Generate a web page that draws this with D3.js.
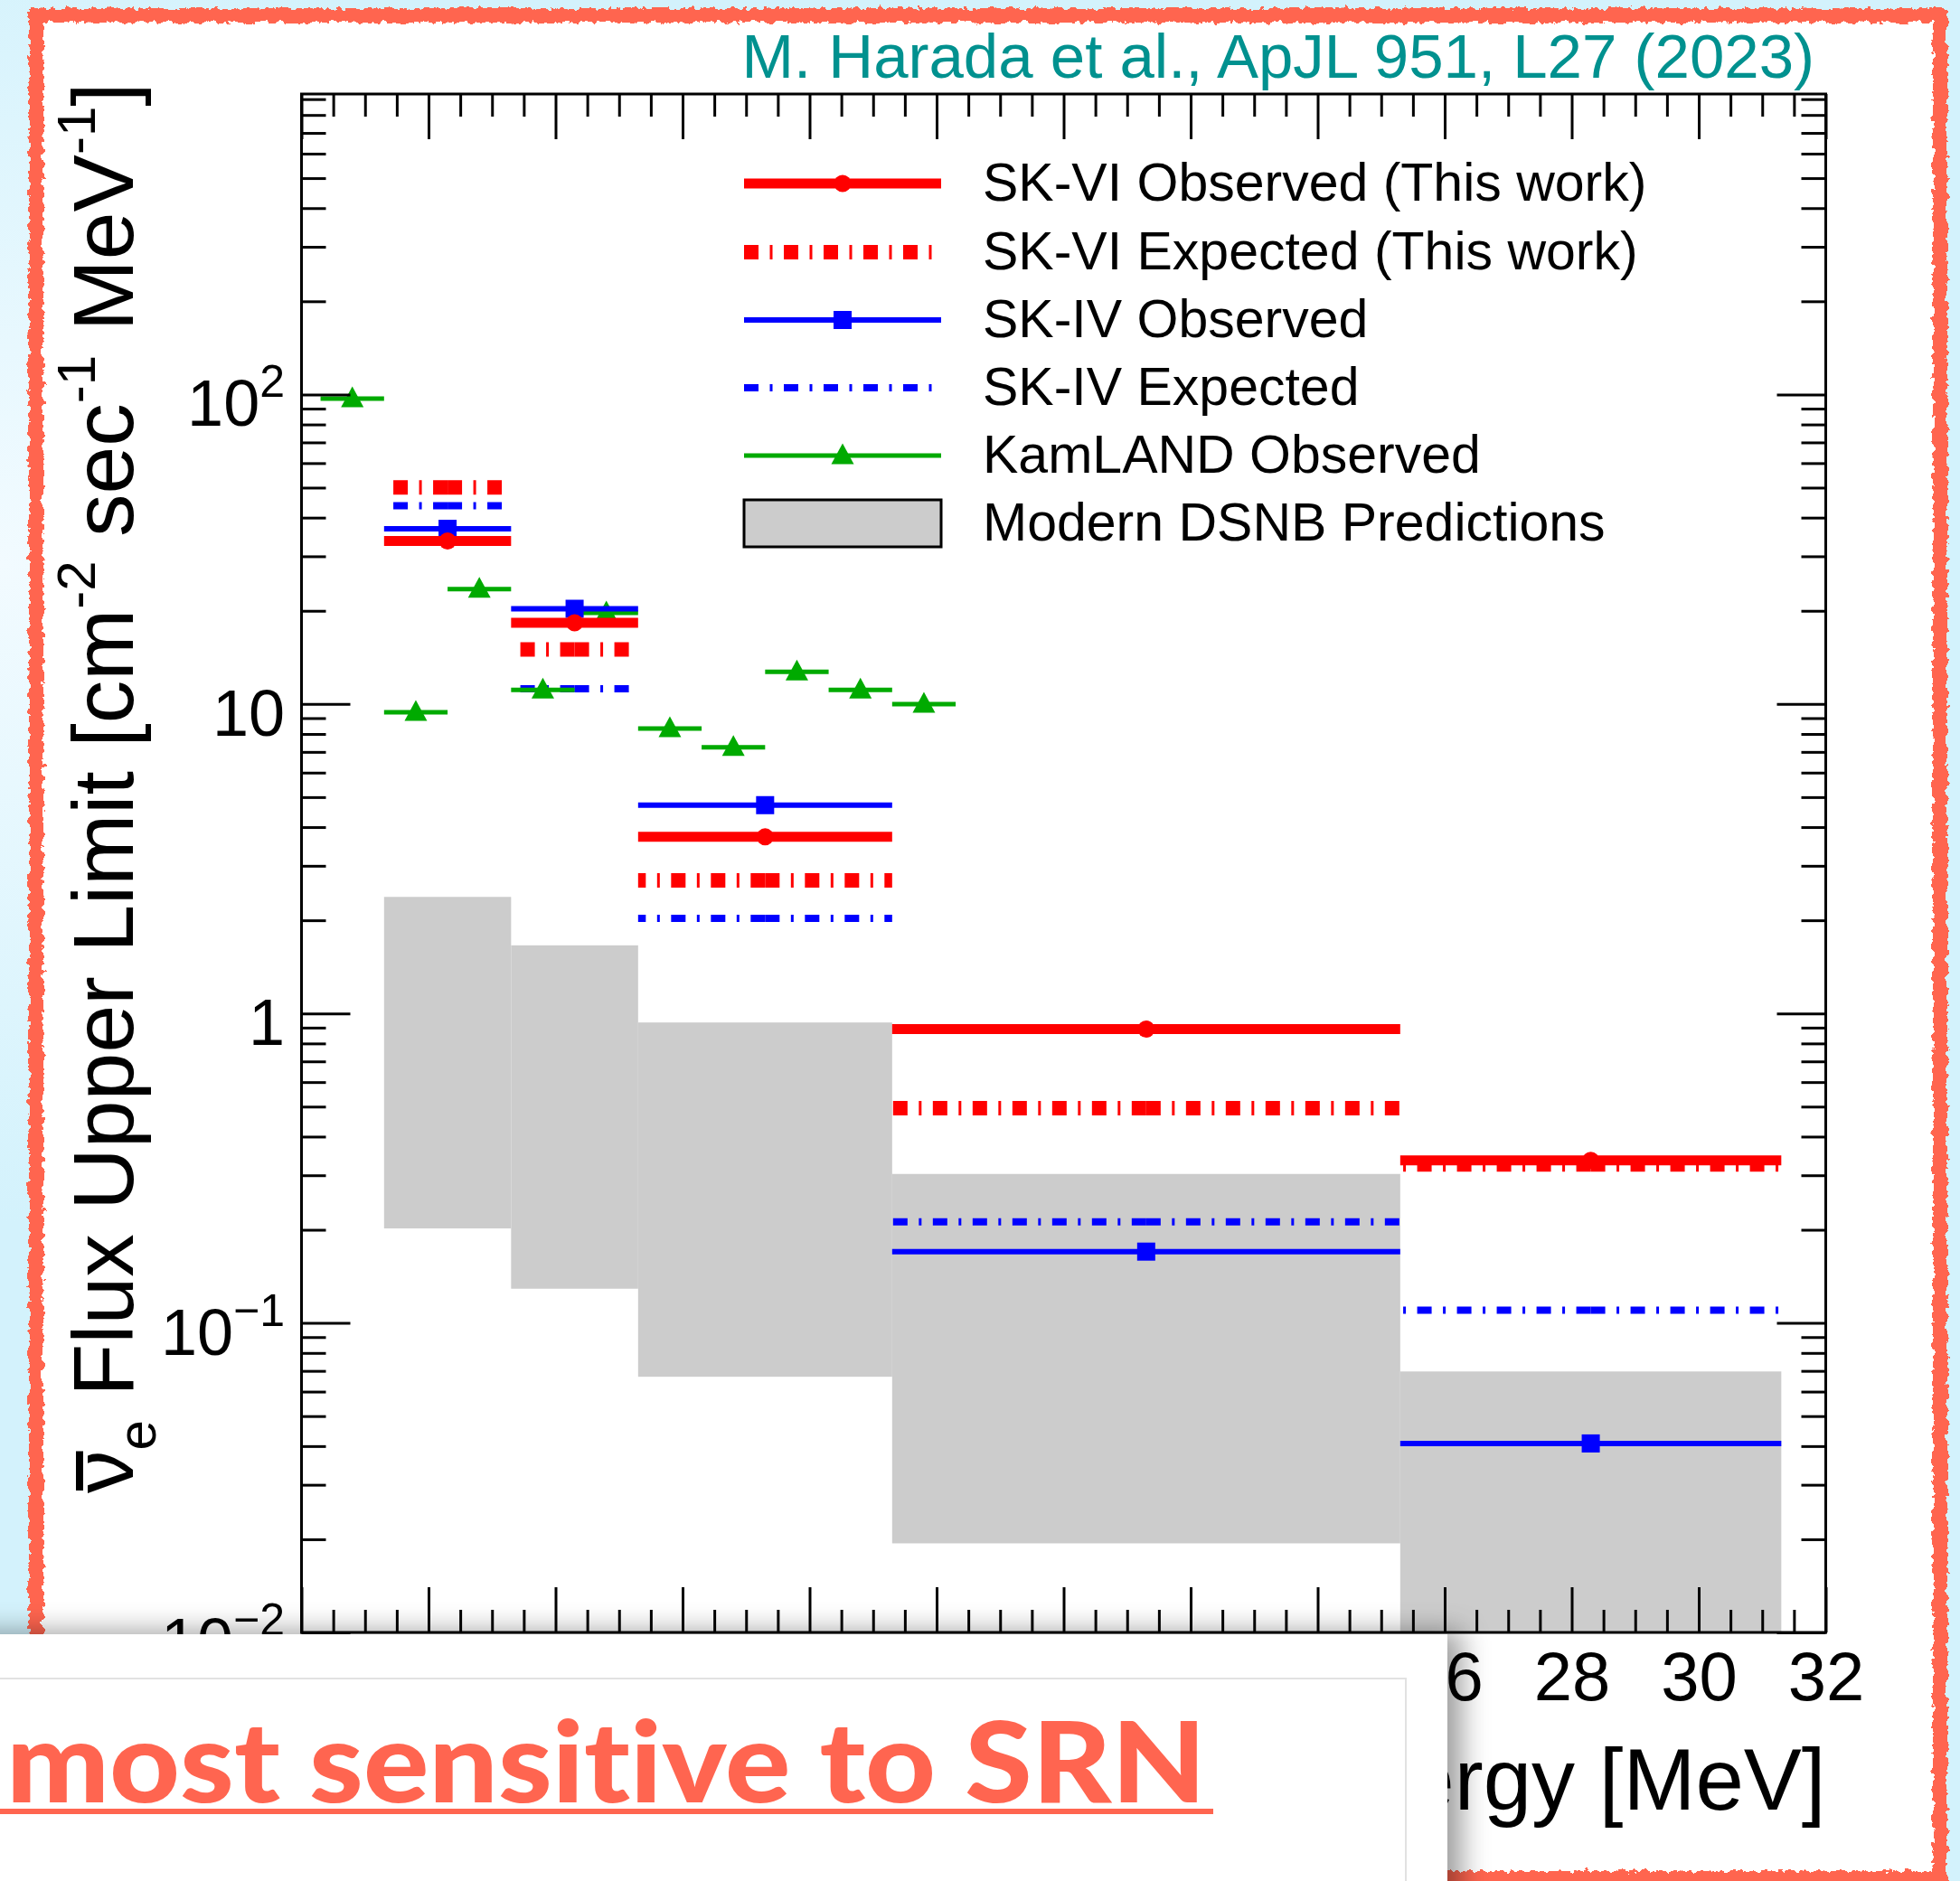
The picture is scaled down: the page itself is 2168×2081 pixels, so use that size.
<!DOCTYPE html>
<html>
<head>
<meta charset="utf-8">
<script src="https://cdn.jsdelivr.net/npm/d3@7"></script>
<style>
  html, body { margin: 0; padding: 0; background: #d3f2fc; }
  svg { display: block; }
  .card-text { font-variant-ligatures: none; font-feature-settings: "liga" 0; }
</style>
</head>
<body>
<svg id="chart" width="2168" height="2081"></svg>
<script>
// ---- data -------------------------------------------------------------
// SK energy bins [MeV]
const skEdges = [9.3, 11.3, 13.3, 17.3, 25.3, 31.3];
// 90% C.L. flux upper limits [cm^-2 s^-1 MeV^-1]
const skviObserved = [33.6, 18.3, 3.72, 0.89, 0.335];
const skviExpected = [50.1, 15.0, 2.69, 0.494, 0.325];
const skivObserved = [36.8, 20.3, 4.71, 0.170, 0.0408];
const skivExpected = [43.7, 11.2, 2.03, 0.212, 0.110];
// band of modern DSNB predictions per SK bin
const dsnbLow  = [0.202, 0.129, 0.067, 0.0194, 0.005];
const dsnbHigh = [2.38, 1.66, 0.935, 0.303, 0.0697];
// KamLAND 1 MeV bins
const kamlandEdges = [8.3, 9.3, 10.3, 11.3, 12.3, 13.3, 14.3, 15.3, 16.3, 17.3, 18.3];
const kamlandObserved = [97, 9.4, 23.5, 11.1, 19.7, 8.33, 7.24, 12.7, 11.1, 9.98];
// axes
const xMajorTicks = [8, 10, 12, 14, 16, 18, 20, 22, 24, 26, 28, 30, 32];
const xLabelledTicks = [26, 28, 30, 32];
const yMajorTicks = [0.01, 0.1, 1, 10, 100];
const yTickBase = ["10", "10", "1", "10", "10"];
const yTickSup  = ["\u22122", "\u22121", "", "", "2"];
const legendLabels = [
  "SK-VI Observed (This work)",
  "SK-VI Expected (This work)",
  "SK-IV Observed",
  "SK-IV Expected",
  "KamLAND Observed",
  "Modern DSNB Predictions"
];

// ---- layout -----------------------------------------------------------
const W = 2168, H = 2081;
const plot = { left: 333.5, right: 2019.5, top: 104, bottom: 1806 };
const RED = "#ff0000", BLUE = "#0000ff", GREEN = "#00aa00", BAND = "#cccccc";
const CORAL = "#ff6550";
const FONT = "'Liberation Sans', Arial, Helvetica, sans-serif";
const CARD_FONT = "Lato, 'Open Sans', sans-serif";

const svg = d3.select("#chart");
const defs = svg.append("defs");

const x = d3.scaleLinear().domain([8, 32]).range([plot.left, plot.right]);
const y = d3.scaleLog().domain([0.01, 935]).range([plot.bottom, plot.top]);

// ragged crayon stroke for the slide frame
const rough = defs.append("filter").attr("id", "rough")
  .attr("filterUnits", "userSpaceOnUse").attr("x", 0).attr("y", 0)
  .attr("width", W).attr("height", H);
rough.append("feTurbulence").attr("type", "fractalNoise")
  .attr("baseFrequency", "0.14").attr("numOctaves", 3).attr("seed", 7).attr("result", "noise");
rough.append("feDisplacementMap").attr("in", "SourceGraphic").attr("in2", "noise")
  .attr("scale", 10).attr("xChannelSelector", "R").attr("yChannelSelector", "G");

// soft shadow under the pasted text card
const shadow = defs.append("filter").attr("id", "shadow")
  .attr("x", "-10%").attr("y", "-20%").attr("width", "130%").attr("height", "150%");
shadow.append("feDropShadow").attr("dx", 16).attr("dy", -3)
  .attr("stdDeviation", 15).attr("flood-color", "#000").attr("flood-opacity", 0.38);

defs.append("clipPath").attr("id", "plotClip").append("rect")
  .attr("x", plot.left).attr("y", plot.top)
  .attr("width", plot.right - plot.left).attr("height", plot.bottom - plot.top);

const bgGrad = defs.append("radialGradient").attr("id", "bgGlow")
  .attr("cx", 0).attr("cy", 0.3).attr("r", 0.35);
bgGrad.append("stop").attr("offset", 0).attr("stop-color", "#f2fbff");
bgGrad.append("stop").attr("offset", 1).attr("stop-color", "#d3f2fc");

// ---- slide background and frame ---------------------------------------
svg.append("rect").attr("width", W).attr("height", H).attr("fill", "url(#bgGlow)");
svg.append("rect").attr("x", 40).attr("y", 17).attr("width", 2106).attr("height", 2061)
  .attr("fill", "#ffffff");
svg.append("rect").attr("x", 40).attr("y", 17).attr("width", 2106).attr("height", 2061)
  .attr("fill", "none").attr("stroke", CORAL).attr("stroke-width", 16)
  .attr("filter", "url(#rough)");

svg.append("text").attr("x", 2007).attr("y", 86)
  .attr("text-anchor", "end").attr("font-family", FONT).attr("font-size", 69)
  .attr("fill", "#00918f")
  .text("M. Harada et al., ApJL 951, L27 (2023)");

// ---- plot contents -----------------------------------------------------
const g = svg.append("g");
const data = g.append("g").attr("clip-path", "url(#plotClip)");

const skBins = skviObserved.map((_, i) => ({
  lo: skEdges[i], hi: skEdges[i + 1], mid: (skEdges[i] + skEdges[i + 1]) / 2
}));

// prediction band
data.selectAll("rect.band").data(skBins).join("rect").attr("class", "band")
  .attr("x", d => x(d.lo)).attr("width", d => x(d.hi) - x(d.lo))
  .attr("y", (d, i) => y(dsnbHigh[i]))
  .attr("height", (d, i) => y(dsnbLow[i]) - y(dsnbHigh[i]))
  .attr("fill", BAND);

// horizontal bin bars, drawn as two halves from the bin centre outwards
function binBars(values, color, width, dash) {
  const segs = [];
  skBins.forEach((b, i) => {
    segs.push({ x0: b.mid, x1: b.lo, v: values[i] });
    segs.push({ x0: b.mid, x1: b.hi, v: values[i] });
  });
  data.append("g").selectAll("line").data(segs).join("line")
    .attr("x1", d => x(d.x0)).attr("x2", d => x(d.x1))
    .attr("y1", d => y(d.v)).attr("y2", d => y(d.v))
    .attr("stroke", color).attr("stroke-width", width)
    .attr("stroke-dasharray", dash || null);
}
const DASHDOT = "16 12.5 3 12.5";

binBars(skivExpected, BLUE, 8, DASHDOT);
binBars(skviExpected, RED, 16, DASHDOT);

// KamLAND
const kBins = kamlandObserved.map((v, i) => ({
  lo: kamlandEdges[i], hi: kamlandEdges[i + 1], mid: (kamlandEdges[i] + kamlandEdges[i + 1]) / 2, v
}));
const triPath = "M0,-13.5L12.5,9.5L-12.5,9.5Z";
data.append("g").selectAll("line").data(kBins).join("line")
  .attr("x1", d => x(d.lo)).attr("x2", d => x(d.hi))
  .attr("y1", d => y(d.v)).attr("y2", d => y(d.v))
  .attr("stroke", GREEN).attr("stroke-width", 5);
data.append("g").selectAll("path").data(kBins).join("path")
  .attr("d", triPath)
  .attr("transform", d => `translate(${x(d.mid)},${y(d.v)})`)
  .attr("fill", GREEN);

binBars(skivObserved, BLUE, 6);
data.append("g").selectAll("rect").data(skBins).join("rect")
  .attr("x", d => x(d.mid) - 10).attr("y", (d, i) => y(skivObserved[i]) - 10)
  .attr("width", 20).attr("height", 20).attr("fill", BLUE);

binBars(skviObserved, RED, 11);
data.append("g").selectAll("circle").data(skBins).join("circle")
  .attr("cx", d => x(d.mid)).attr("cy", (d, i) => y(skviObserved[i]))
  .attr("r", 9.5).attr("fill", RED);

// ---- axes (ROOT style: ticks inside, on all four sides) ----------------
const xMinor = d3.range(8, 32.001, 0.5).filter(v => !xMajorTicks.includes(v));
const yMinor = [];
[0.01, 0.1, 1, 10, 100].forEach(dec => {
  for (let k = 2; k <= 9; k++) {
    const v = dec * k;
    if (v <= y.domain()[1]) yMinor.push(v);
  }
});

function styleAxis(sel) {
  sel.select(".domain").remove();
  sel.selectAll(".tick line").attr("stroke", "#000").attr("stroke-width", 3);
}

const axBottom = g.append("g").attr("transform", `translate(0,${plot.bottom})`)
  .call(d3.axisBottom(x).tickValues(xMajorTicks).tickSizeInner(-50).tickSizeOuter(0)
    .tickPadding(21).tickFormat(d => xLabelledTicks.includes(d) ? d3.format("d")(d) : ""));
styleAxis(axBottom);
axBottom.selectAll(".tick text").attr("font-family", FONT).attr("font-size", 76).attr("fill", "#000");

g.append("g").attr("transform", `translate(0,${plot.bottom})`)
  .call(d3.axisBottom(x).tickValues(xMinor).tickSizeInner(-25).tickSizeOuter(0).tickFormat(""))
  .call(styleAxis);
g.append("g").attr("transform", `translate(0,${plot.top})`)
  .call(d3.axisTop(x).tickValues(xMajorTicks).tickSizeInner(-50).tickSizeOuter(0).tickFormat(""))
  .call(styleAxis);
g.append("g").attr("transform", `translate(0,${plot.top})`)
  .call(d3.axisTop(x).tickValues(xMinor).tickSizeInner(-25).tickSizeOuter(0).tickFormat(""))
  .call(styleAxis);

g.append("g").attr("transform", `translate(${plot.left},0)`)
  .call(d3.axisLeft(y).tickValues(yMajorTicks).tickSizeInner(-54).tickSizeOuter(0).tickFormat(""))
  .call(styleAxis);
g.append("g").attr("transform", `translate(${plot.left},0)`)
  .call(d3.axisLeft(y).tickValues(yMinor).tickSizeInner(-27).tickSizeOuter(0).tickFormat(""))
  .call(styleAxis);
g.append("g").attr("transform", `translate(${plot.right},0)`)
  .call(d3.axisRight(y).tickValues(yMajorTicks).tickSizeInner(-54).tickSizeOuter(0).tickFormat(""))
  .call(styleAxis);
g.append("g").attr("transform", `translate(${plot.right},0)`)
  .call(d3.axisRight(y).tickValues(yMinor).tickSizeInner(-27).tickSizeOuter(0).tickFormat(""))
  .call(styleAxis);

// y tick labels with exponents
yMajorTicks.forEach((v, i) => {
  const t = g.append("text").attr("x", 315).attr("y", y(v) + 35)
    .attr("text-anchor", "end").attr("font-family", FONT).attr("font-size", 72).attr("fill", "#000");
  t.append("tspan").text(yTickBase[i]);
  if (yTickSup[i]) t.append("tspan").attr("dy", -32).attr("font-size", 50).text(yTickSup[i]);
});

// frame
g.append("rect").attr("x", plot.left).attr("y", plot.top)
  .attr("width", plot.right - plot.left).attr("height", plot.bottom - plot.top)
  .attr("fill", "none").attr("stroke", "#000").attr("stroke-width", 3);

// axis titles
g.append("text").attr("x", plot.right).attr("y", 2002)
  .attr("text-anchor", "end").attr("font-family", FONT).attr("font-size", 96).attr("fill", "#000")
  .text("Energy [MeV]");

const yTitle = g.append("g").attr("transform", "translate(147,1652) rotate(-90)");
const yt = yTitle.append("text").attr("x", 0).attr("y", 0)
  .attr("font-family", FONT).attr("font-size", 95).attr("fill", "#000");
yt.append("tspan").text("\u03bd");
yt.append("tspan").attr("dy", 25).attr("font-size", 60).text("e");
yt.append("tspan").attr("dy", -25).text("\u00a0Flux Upper Limit [cm");
yt.append("tspan").attr("dy", -42).attr("font-size", 60).text("-2");
yt.append("tspan").attr("dy", 42).text("\u00a0sec");
yt.append("tspan").attr("dy", -42).attr("font-size", 60).text("-1");
yt.append("tspan").attr("dy", 42).text("\u00a0MeV");
yt.append("tspan").attr("dy", -42).attr("font-size", 60).text("-1");
yt.append("tspan").attr("dy", 42).text("]");
// anti-neutrino bar over the nu
(function () {
  const n = yt.node();
  const a = n.getStartPositionOfChar(0).x, b = n.getEndPositionOfChar(0).x;
  yTitle.append("line").attr("x1", a + 3).attr("x2", b - 1).attr("y1", -59).attr("y2", -59)
    .attr("stroke", "#000").attr("stroke-width", 8);
})();

// ---- legend -------------------------------------------------------------
const legend = g.append("g");
const legX0 = 823, legX1 = 1041, legMid = (823 + 1041) / 2, legText = 1087;
const rowY = [203, 279, 354, 429, 504, 579];
const legStyles = [
  { c: RED, w: 11, dash: null, m: "circle" },
  { c: RED, w: 16, dash: DASHDOT, m: null },
  { c: BLUE, w: 6, dash: null, m: "square" },
  { c: BLUE, w: 8, dash: DASHDOT, m: null },
  { c: GREEN, w: 5, dash: null, m: "tri" },
  { box: true }
];
legendLabels.forEach((lab, i) => {
  const s = legStyles[i], yy = rowY[i];
  if (s.box) {
    legend.append("rect").attr("x", legX0).attr("y", yy - 26).attr("width", legX1 - legX0)
      .attr("height", 52).attr("fill", BAND).attr("stroke", "#000").attr("stroke-width", 3);
  } else {
    legend.append("line").attr("x1", legX0).attr("x2", legX1).attr("y1", yy).attr("y2", yy)
      .attr("stroke", s.c).attr("stroke-width", s.w).attr("stroke-dasharray", s.dash);
    if (s.m === "circle") legend.append("circle").attr("cx", legMid).attr("cy", yy).attr("r", 9.5).attr("fill", s.c);
    if (s.m === "square") legend.append("rect").attr("x", legMid - 10).attr("y", yy - 10)
      .attr("width", 20).attr("height", 20).attr("fill", s.c);
    if (s.m === "tri") legend.append("path").attr("d", triPath)
      .attr("transform", `translate(${legMid},${yy})`).attr("fill", s.c);
  }
  legend.append("text").attr("x", legText).attr("y", yy + 19)
    .attr("font-family", FONT).attr("font-size", 59).attr("fill", "#000").text(lab);
});

// ---- pasted text card in the lower left ---------------------------------
const card = svg.append("g");
card.append("rect").attr("x", -60).attr("y", 1808).attr("width", 1661).attr("height", 400)
  .attr("fill", "#ffffff").attr("filter", "url(#shadow)");
card.append("path").attr("d", "M-10,1857H1555V2100")
  .attr("fill", "none").attr("stroke", "#e2e2e2").attr("stroke-width", 2);
const head = card.append("text").attr("class", "card-text").attr("x", 7).attr("y", 1994)
  .attr("font-family", CARD_FONT).attr("font-weight", 900)
  .attr("font-size", 124).attr("fill", CORAL)
  .text("most sensitive to SRN");
head.attr("textLength", 1327).attr("lengthAdjust", "spacingAndGlyphs");
card.append("rect").attr("x", 0).attr("y", 2001).attr("width", 1342).attr("height", 6).attr("fill", CORAL);
card.append("text").attr("class", "card-text").attr("x", 28).attr("y", 2187)
  .attr("font-family", CARD_FONT).attr("font-weight", 900)
  .attr("font-size", 124).attr("fill", CORAL)
  .text("SK-Gd");
</script>
</body>
</html>
